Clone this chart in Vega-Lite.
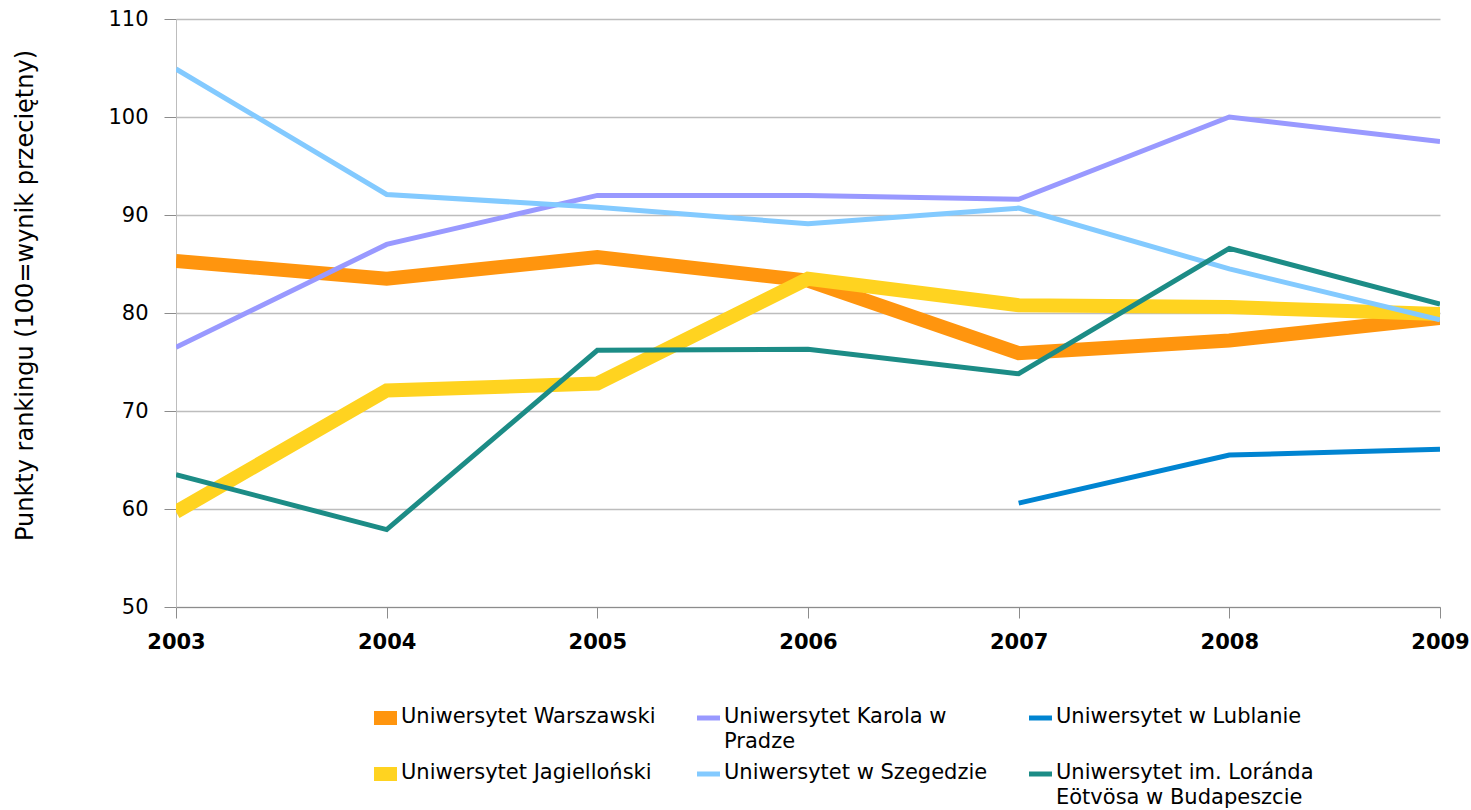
{
  "$schema": "https://vega.github.io/schema/vega-lite/v6.json",
  "width": 1264,
  "height": 588,
  "autosize": {"type": "none"},
  "padding": {"left": 176, "top": 19, "right": 31, "bottom": 203},
  "background": "white",
  "config": {
    "font": "DejaVu Sans",
    "view": {"stroke": null},
    "axis": {"labelFont": "DejaVu Sans", "titleFont": "DejaVu Sans", "labelColor": "#000", "titleColor": "#000"}
  },
  "data": {
    "values": [
      {"uczelnia": "Uniwersytet Warszawski", "rok": 2003, "punkty": 85.3},
      {"uczelnia": "Uniwersytet Warszawski", "rok": 2004, "punkty": 83.5},
      {"uczelnia": "Uniwersytet Warszawski", "rok": 2005, "punkty": 85.7},
      {"uczelnia": "Uniwersytet Warszawski", "rok": 2006, "punkty": 83.3},
      {"uczelnia": "Uniwersytet Warszawski", "rok": 2007, "punkty": 75.9},
      {"uczelnia": "Uniwersytet Warszawski", "rok": 2008, "punkty": 77.2},
      {"uczelnia": "Uniwersytet Warszawski", "rok": 2009, "punkty": 79.5},
      {"uczelnia": "Uniwersytet Jagielloński", "rok": 2003, "punkty": 59.7},
      {"uczelnia": "Uniwersytet Jagielloński", "rok": 2004, "punkty": 72.1},
      {"uczelnia": "Uniwersytet Jagielloński", "rok": 2005, "punkty": 72.8},
      {"uczelnia": "Uniwersytet Jagielloński", "rok": 2006, "punkty": 83.5},
      {"uczelnia": "Uniwersytet Jagielloński", "rok": 2007, "punkty": 80.8},
      {"uczelnia": "Uniwersytet Jagielloński", "rok": 2008, "punkty": 80.6},
      {"uczelnia": "Uniwersytet Jagielloński", "rok": 2009, "punkty": 79.9},
      {"uczelnia": "Uniwersytet Karola w Pradze", "rok": 2003, "punkty": 76.5},
      {"uczelnia": "Uniwersytet Karola w Pradze", "rok": 2004, "punkty": 87.0},
      {"uczelnia": "Uniwersytet Karola w Pradze", "rok": 2005, "punkty": 92.0},
      {"uczelnia": "Uniwersytet Karola w Pradze", "rok": 2006, "punkty": 92.0},
      {"uczelnia": "Uniwersytet Karola w Pradze", "rok": 2007, "punkty": 91.6},
      {"uczelnia": "Uniwersytet Karola w Pradze", "rok": 2008, "punkty": 100.0},
      {"uczelnia": "Uniwersytet Karola w Pradze", "rok": 2009, "punkty": 97.5},
      {"uczelnia": "Uniwersytet w Szegedzie", "rok": 2003, "punkty": 104.9},
      {"uczelnia": "Uniwersytet w Szegedzie", "rok": 2004, "punkty": 92.1},
      {"uczelnia": "Uniwersytet w Szegedzie", "rok": 2005, "punkty": 90.8},
      {"uczelnia": "Uniwersytet w Szegedzie", "rok": 2006, "punkty": 89.1},
      {"uczelnia": "Uniwersytet w Szegedzie", "rok": 2007, "punkty": 90.7},
      {"uczelnia": "Uniwersytet w Szegedzie", "rok": 2008, "punkty": 84.5},
      {"uczelnia": "Uniwersytet w Szegedzie", "rok": 2009, "punkty": 79.3},
      {"uczelnia": "Uniwersytet w Lublanie", "rok": 2007, "punkty": 60.6},
      {"uczelnia": "Uniwersytet w Lublanie", "rok": 2008, "punkty": 65.5},
      {"uczelnia": "Uniwersytet w Lublanie", "rok": 2009, "punkty": 66.1},
      {"uczelnia": "Uniwersytet im. Loránda Eötvösa w Budapeszcie", "rok": 2003, "punkty": 63.5},
      {"uczelnia": "Uniwersytet im. Loránda Eötvösa w Budapeszcie", "rok": 2004, "punkty": 57.9},
      {"uczelnia": "Uniwersytet im. Loránda Eötvösa w Budapeszcie", "rok": 2005, "punkty": 76.2},
      {"uczelnia": "Uniwersytet im. Loránda Eötvösa w Budapeszcie", "rok": 2006, "punkty": 76.3},
      {"uczelnia": "Uniwersytet im. Loránda Eötvösa w Budapeszcie", "rok": 2007, "punkty": 73.8},
      {"uczelnia": "Uniwersytet im. Loránda Eötvösa w Budapeszcie", "rok": 2008, "punkty": 86.6},
      {"uczelnia": "Uniwersytet im. Loránda Eötvösa w Budapeszcie", "rok": 2009, "punkty": 80.9}
    ]
  },
  "mark": {"type": "line", "clip": true, "strokeCap": "butt", "strokeJoin": "miter"},
  "encoding": {
    "x": {
      "field": "rok",
      "type": "quantitative",
      "scale": {"domain": [2003, 2009], "nice": false, "zero": false},
      "axis": {
        "title": null,
        "values": [2003, 2004, 2005, 2006, 2007, 2008, 2009],
        "format": "d",
        "grid": false,
        "labelFontSize": 21,
        "labelFontWeight": "bold",
        "labelPadding": 13,
        "tickSize": 11,
        "tickColor": "#8c8c8c",
        "domainColor": "#8c8c8c",
        "labelFlush": false
      }
    },
    "y": {
      "field": "punkty",
      "type": "quantitative",
      "scale": {"domain": [50, 110], "nice": false, "zero": false},
      "axis": {
        "title": "Punkty rankingu (100=wynik przeciętny)",
        "titleFontSize": 24,
        "titleFontWeight": "normal",
        "titlePadding": 70,
        "titleY": 276,
        "values": [50, 60, 70, 80, 90, 100, 110],
        "labelFontSize": 21,
        "labelPadding": 16,
        "tickSize": 12,
        "tickColor": "#8c8c8c",
        "domainColor": "#bdbdbd",
        "gridColor": "#bdbdbd",
        "gridWidth": 1.5
      }
    },
    "color": {
      "field": "uczelnia",
      "type": "nominal",
      "scale": {
        "domain": [
          "Uniwersytet Warszawski",
          "Uniwersytet Karola w Pradze",
          "Uniwersytet w Lublanie",
          "Uniwersytet Jagielloński",
          "Uniwersytet w Szegedzie",
          "Uniwersytet im. Loránda Eötvösa w Budapeszcie"
        ],
        "range": ["#ff950e", "#9999ff", "#0084d1", "#ffd320", "#83caff", "#1c8c86"]
      },
      "legend": {
        "title": null,
        "orient": "none",
        "legendX": 198,
        "legendY": 687,
        "direction": "horizontal",
        "columns": 3,
        "columnPadding": 31,
        "rowPadding": -6,
        "symbolType": "stroke",
        "symbolSize": 529,
        "labelFontSize": 21,
        "labelColor": "#000",
        "labelLimit": 500,
        "labelBaseline": "top",
        "labelExpr": "datum.value == 'Uniwersytet Karola w Pradze' ? ['Uniwersytet Karola w', 'Pradze'] : datum.value == 'Uniwersytet im. Loránda Eötvösa w Budapeszcie' ? ['Uniwersytet im. Loránda', 'Eötvösa w Budapeszcie'] : [datum.label, ' ']",
        "encode": {
          "symbols": {
            "update": {
              "x": {"value": 11.5},
              "y": {"value": 12}
            }
          },
          "labels": {
            "update": {
              "x": {"value": 27},
              "y": {"value": 0},
              "lineHeight": {"value": 25}
            }
          }
        }
      }
    },
    "strokeWidth": {
      "field": "uczelnia",
      "type": "nominal",
      "scale": {
        "type": "ordinal",
        "domain": [
          "Uniwersytet Warszawski",
          "Uniwersytet Karola w Pradze",
          "Uniwersytet w Lublanie",
          "Uniwersytet Jagielloński",
          "Uniwersytet w Szegedzie",
          "Uniwersytet im. Loránda Eötvösa w Budapeszcie"
        ],
        "range": [14, 5, 5, 14, 5, 5]
      },
      "legend": null
    }
  }
}
